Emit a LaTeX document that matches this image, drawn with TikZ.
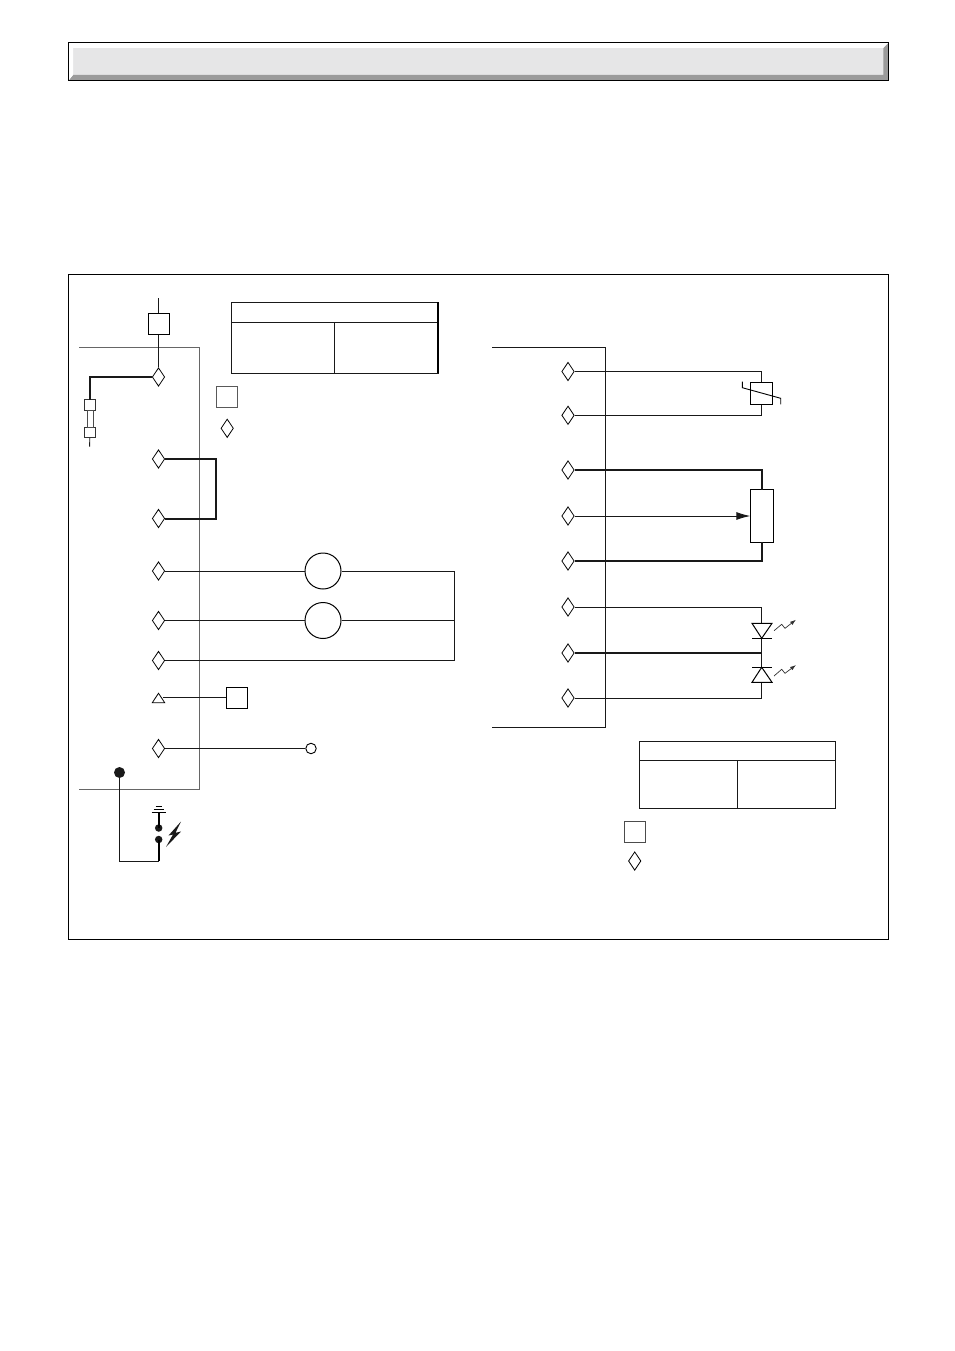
\documentclass[tikz,border=0pt]{standalone}
\usetikzlibrary{shapes.geometric,arrows.meta}
\definecolor{panelfill}{HTML}{E6E6E7}
\definecolor{bevel}{HTML}{9B9B9B}
\definecolor{rail}{HTML}{666666}
\tikzset{
  wire/.style={line width=0.9pt,black!90},
  heavy/.style={line width=2pt,black!90},
  railline/.style={line width=1pt,rail},
  dia/.style={shape=diamond,draw,line width=0.8pt,fill=white,minimum width=12.5pt,minimum height=18.5pt,inner sep=0pt},
  sqbox/.style={draw,line width=1pt,fill=white,inner sep=0pt,minimum width=#1,minimum height=#1},
  motor/.style={circle,draw,line width=1pt,fill=white,inner sep=0pt,minimum size=36pt},
  dot/.style={circle,fill=black!90,inner sep=0pt,minimum size=#1},
  table/.style={line width=1pt,black!90},
}
\begin{document}
\begin{tikzpicture}[x=1pt,y=-1pt]
\useasboundingbox (0,0) rectangle (954,1351);
\fill[white] (0,0) rectangle (954,1351);
% header bar
\fill[panelfill] (69,43) rectangle (888,80);
\fill[bevel] (888,43) -- (888,80) -- (69,80) -- (73,75) -- (883.3,75) -- (883.3,48) -- cycle;
\fill[white] (69,43) -- (888,43) -- (883.3,47.8) -- (73,47.8) -- (73,75) -- (69,80) -- cycle;
\draw[line width=1pt] (68.8,42.8) rectangle (888.2,80.2);
% main frame
\draw[line width=0.9pt] (68.5,274.5) rectangle (888.5,939);

% ---------- left block
\draw[railline] (79,347) -- (199,347) -- (199,789) -- (79,789);
\coordinate (feedtop) at (158.5,298);
\node[sqbox=21pt] (fuseterm) at (158.5,323.5) {};
\node[dia] (L1) at (158.5,377) {};
\node[dia] (L2) at (158.5,459) {};
\node[dia] (L3) at (158.5,518.5) {};
\node[dia] (L4) at (158.5,571) {};
\node[dia] (L5) at (158.5,620.5) {};
\node[dia] (L6) at (158.5,660.5) {};
\node[dia] (L8) at (158.5,748.5) {};
\node[isosceles triangle,shape border rotate=90,isosceles triangle stretches,draw,line width=0.8pt,fill=white,minimum width=12.5pt,minimum height=9.5pt,inner sep=0pt,anchor=apex] (L7) at (158.5,692.2) {};
\coordinate (L7out) at (163,697.5);
\node[sqbox=21pt] (gas) at (237,697.5) {};
\node[motor] (M1) at (323,571) {};
\node[motor] (M2) at (323,620.5) {};
\node[circle,draw,line width=0.9pt,fill=white,inner sep=0pt,minimum size=10.5pt] (probe) at (311,748.5) {};
\coordinate (Mbusa) at (454.5,571);
\coordinate (Mbusb) at (454.5,620.5);
\coordinate (Mbusc) at (454.5,660.5);

\draw[wire] (feedtop) -- (fuseterm.north);
\draw[wire] (fuseterm.south) -- (L1.north);
% fuse
\node[sqbox=10.5pt,line width=0.9pt,draw=black!80] (F1) at (89.8,405) {};
\node[sqbox=10.5pt,line width=0.9pt,draw=black!80] (F2) at (89.8,432.3) {};
\draw[line width=0.8pt,black!70] (87,410.2) rectangle (93,427);
\coordinate (Fend) at (89.6,446.7);
\draw[heavy] (L1.west) -- (89.6,377) -- (89.6,399.5);
\draw[wire] (F2.south) -- (Fend);
\draw[heavy] (L2.east) -- (216,459) -- (216,518.5) -- (L3.east);
\draw[wire] (L4.east) -- (M1.west);
\draw[wire] (L5.east) -- (M2.west);
\draw[wire] (M1.east) -- (Mbusa);
\draw[wire] (M2.east) -- (Mbusb);
\draw[wire] (L6.east) -- (Mbusc);
\draw[wire] (Mbusa) -- (Mbusc);
\draw[wire] (L7out) -- (gas.west);
\draw[wire] (L8.east) -- (probe.west);
% earth & spark
\node[dot=11pt] (E1) at (119.5,772.5) {};
\node[dot=7.5pt] (S1) at (158.7,828) {};
\node[dot=7.5pt] (S2) at (158.7,839.5) {};
\coordinate (Scap) at (158.7,812.7);
\draw[wire] (E1.center) -- (119.5,861) -- (158.7,861) -- (S2.center);
\draw[line width=1.6pt] (Scap) -- (S1.center);
\draw[line width=1.6pt] (158.7,861) -- (S2.center);
\draw[line width=1.3pt] (151.7,812.7) -- (166,812.7);
\draw[line width=1.2pt] (153.5,809.4) -- (164,809.4);
\draw[line width=1.2pt] (155.7,806.7) -- (162,806.7);
\fill[black!90] (181,821.5) -- (168.5,835.5) -- (173,834.5) -- (166,847) -- (181,831.5) -- (175.5,832.8) -- cycle;

% left table and legend
\draw[table] (231.5,302) rectangle (438,373);
\draw[table] (231.5,322) -- (438,322);
\draw[table] (334.5,322) -- (334.5,373);
\draw[line width=1.4pt] (438,302) -- (438,373);
\node[sqbox=21.5pt,draw=black!65,line width=1.1pt] (legS1) at (227,397) {};
\node[dia] (legD1) at (227.2,428.3) {};

% ---------- right block
\draw[wire] (492,347) -- (605.7,347) -- (605.7,727) -- (492,727);
\node[dia] (R1) at (568,371.5) {};
\node[dia] (R2) at (568,415.3) {};
\node[dia] (R3) at (568,470) {};
\node[dia] (R4) at (568,516) {};
\node[dia] (R5) at (568,561) {};
\node[dia] (R6) at (568,607) {};
\node[dia] (R7) at (568,653) {};
\node[dia] (R8) at (568,698) {};
\node[draw,line width=1pt,fill=white,inner sep=0pt,minimum width=22pt,minimum height=22pt] (therm) at (761.7,393.3) {};
\node[draw,line width=1pt,fill=white,inner sep=0pt,minimum width=23pt,minimum height=52.5pt] (pot) at (762.3,516) {};
\draw[wire] (R1.east) -- (761.7,371.5) -- (therm.north);
\draw[wire] (R2.east) -- (761.7,415.3) -- (therm.south);
\draw[line width=0.9pt] (742.3,381.7) -- (742.3,387.7) -- (780.7,398.3) -- (780.7,404.3);
\draw[heavy] (R3.east) -- (761.7,470) -- (761.7,489.7);
\draw[heavy] (R5.east) -- (761.7,561) -- (761.7,542.3);
\draw[wire,-{Latex[length=14pt,width=8pt]}] (R4.east) -- (pot.west);
% LEDs
\coordinate (Ltop) at (761.7,623.3);
\coordinate (Lmid1) at (761.7,638.3);
\coordinate (Lmid2) at (761.7,667.3);
\coordinate (Lbot) at (761.7,682.3);
\draw[wire] (R6.east) -- (761.7,607) -- (Ltop);
\draw[wire] (R8.east) -- (761.7,698) -- (Lbot);
\draw[heavy] (R7.east) -- (761.7,653);
\draw[wire] (Lmid1) -- (Lmid2);
\draw[line width=1pt,fill=white] (752,623.3) -- (772,623.3) -- (Lmid1) -- cycle;
\draw[line width=1pt,fill=white] (752,682.3) -- (772,682.3) -- (Lmid2) -- cycle;
\draw[line width=1pt] (752,638.3) -- (772,638.3);
\draw[line width=1pt] (752,667.3) -- (772,667.3);
\draw[line width=0.7pt,black!80,-{Latex[length=6pt,width=4pt]}] (774,630.7) -- (781.7,624.3) -- (785,628.3) -- (796,619.7);
\draw[line width=0.7pt,black!80,-{Latex[length=6pt,width=4pt]}] (774,676) -- (781.7,669.3) -- (785,673.3) -- (796,665);

% right table and legend
\draw[table] (639.5,741) rectangle (835,808);
\draw[table] (639.5,760) -- (835,760);
\draw[table] (737.5,760) -- (737.5,808);
\node[sqbox=21pt,draw=black!70,line width=1pt] (legS2) at (635,831.5) {};
\node[dia] (legD2) at (634.7,861) {};
\end{tikzpicture}
\end{document}
